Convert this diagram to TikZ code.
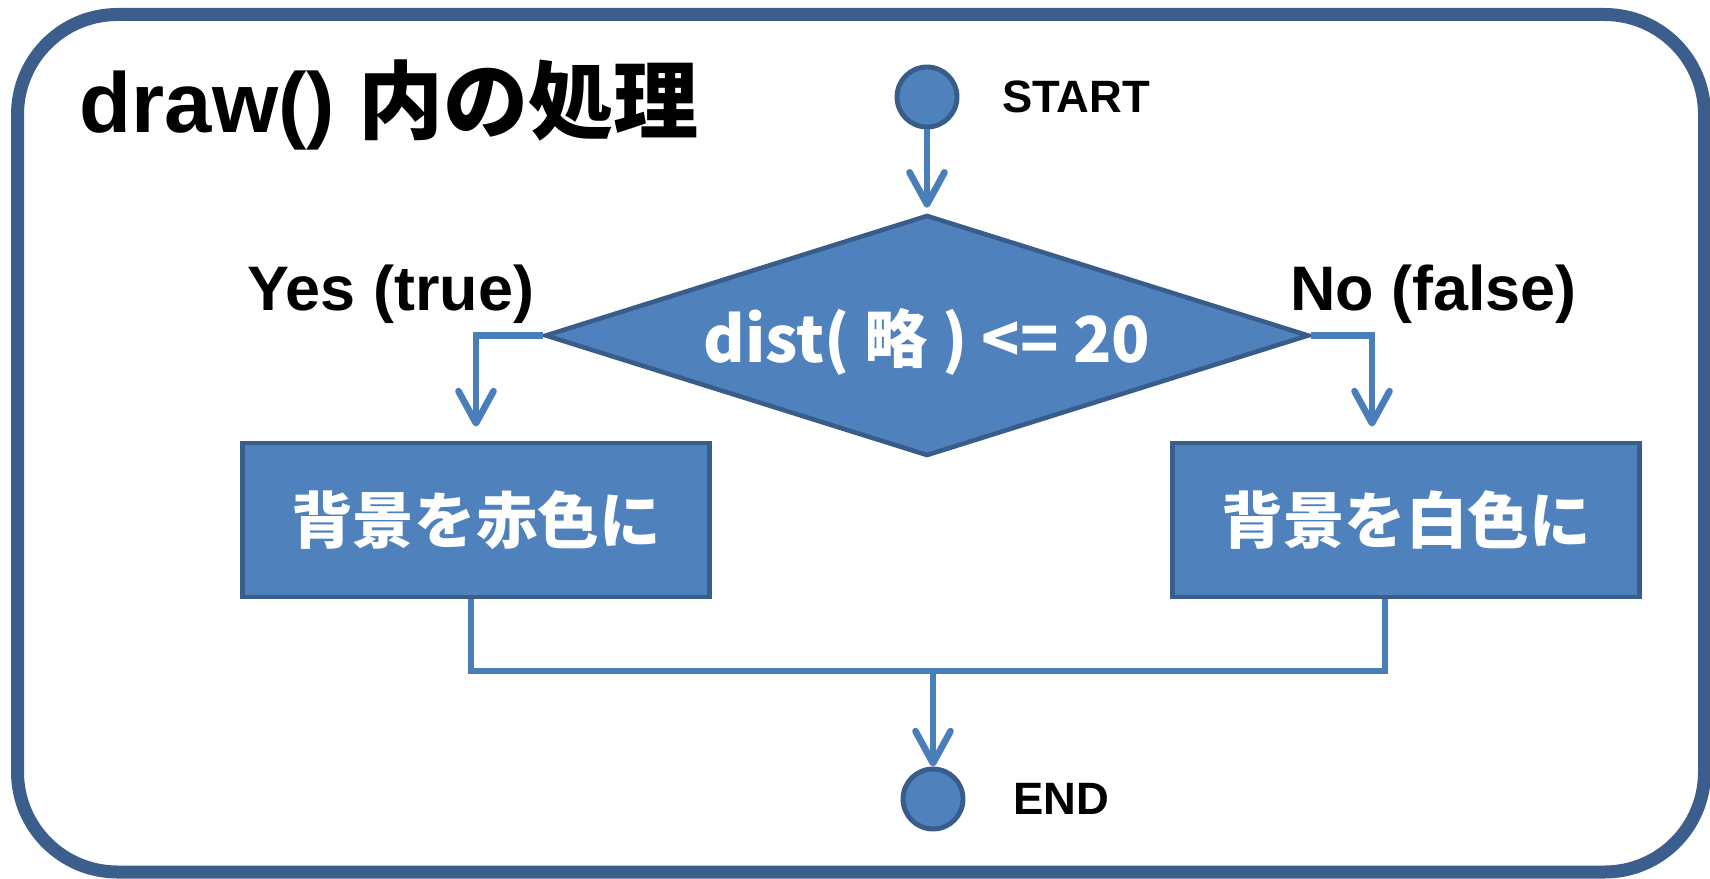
\documentclass[tikz,border=0pt]{standalone}
\usepackage{fontspec}
\setmainfont{Liberation Sans}
\newfontfamily\jpfont{Noto Sans CJK JP}
\usetikzlibrary{shapes.geometric,positioning,calc,arrows.meta}
\definecolor{boxblue}{HTML}{4F81BD}
\definecolor{edgeblue}{HTML}{385D8A}
\definecolor{wireblue}{HTML}{4A7EBB}
\definecolor{frameblue}{HTML}{3B5E8C}

\begin{document}
\begin{tikzpicture}[
        block/.style={rectangle, draw=edgeblue, fill=boxblue, line width=1.4pt, text=white, font=\jpfont\bfseries\fontsize{17.5}{20}\selectfont, minimum width=4.67cm, minimum height=1.54cm, inner sep=0pt},
        decision/.style={diamond, draw=edgeblue, fill=boxblue, line width=1.3pt, text=white, font=\jpfont\bfseries\fontsize{18}{21}\selectfont, minimum width=7.64cm, minimum height=2.41cm, inner sep=0pt, aspect=3.2},
        terminal/.style={circle, draw=edgeblue, fill=boxblue, line width=1.4pt, minimum size=0.60cm, inner sep=0pt},
        tag/.style={font=\bfseries\fontsize{12.9}{15}\selectfont, inner sep=0pt},
        answer/.style={font=\bfseries\fontsize{17.9}{21}\selectfont, inner sep=0pt},
        line/.style={draw=wireblue, line width=1.9pt, -{Straight Barb[length=0.32cm, width=0.35cm, round]}},
        wire/.style={draw=wireblue, line width=1.9pt}]

        \useasboundingbox (0,0) rectangle (17.10,-8.78);
        \draw [frameblue, line width=0.13cm, rounded corners=1cm] (0.175,-0.145) rectangle (17.045,-8.72);

        \node [anchor=base west, inner sep=0pt, font=\bfseries\fontsize{24.2}{28}\selectfont] (title) at (0.79,-1.33) {draw() {\jpfont 内の処理}};

        \node [terminal] (start) at (9.27,-0.97) {};
        \node [tag, right=0.42cm of start] (startlbl) {START};
        \node [decision] (cond) at (9.27,-3.355) {\raisebox{-0.27cm}[0pt][0pt]{dist( 略 ) <= 20}};
        \node [answer, anchor=base east] (yes) at ([xshift=-0.08cm,yshift=0.25cm]cond.west) {Yes (true)};
        \node [answer, anchor=base west] (no) at ([xshift=-0.22cm,yshift=0.25cm]cond.east) {No (false)};
        \node [block] (red) at (4.76,-5.20) {背景を赤色に};
        \node [block] (white) at (14.06,-5.20) {背景を白色に};
        \node [terminal] (stop) at (9.33,-7.99) {};
        \node [tag, right=0.47cm of stop] (stoplbl) {END};
        \coordinate (join) at (9.33,-6.71);

        \path [line, shorten >=0.05cm] (start) -- (cond.north);
        \path [line, shorten >=0.14cm] (cond.west) -| (red.north);
        \path [line, shorten >=0.14cm] (cond.east) -| ([xshift=-0.34cm]white.north);
        \path [wire] ([xshift=-0.05cm]red.south) |- (join) -| ([xshift=-0.21cm]white.south); % merge
        \path [line] (join) -- (stop);
    \end{tikzpicture}
\end{document}
